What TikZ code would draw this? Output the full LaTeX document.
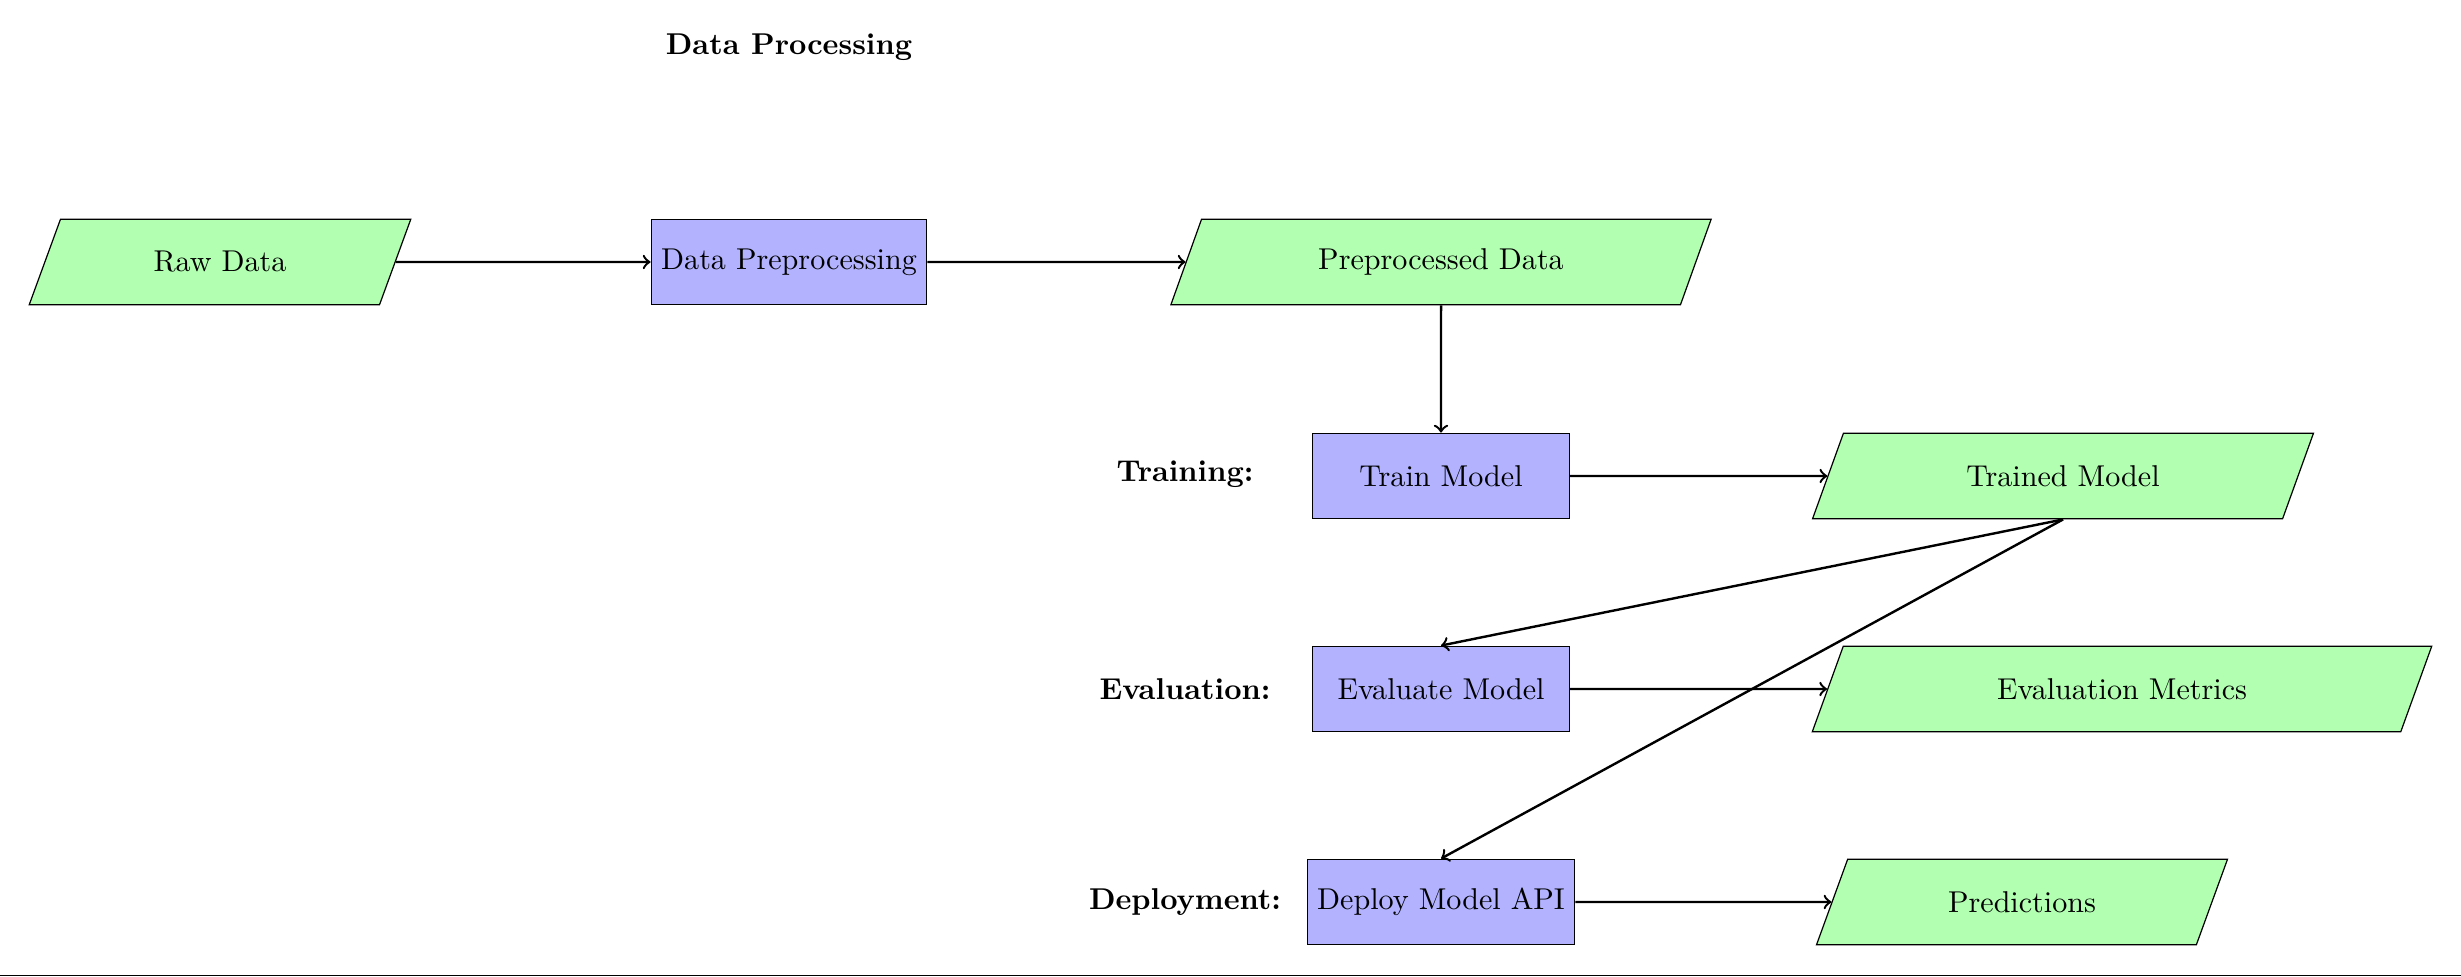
\documentclass[tikz,border=0pt]{standalone}
\usetikzlibrary{shapes.geometric}
\begin{document}
\begin{tikzpicture}[x=0.011669cm,y=-0.011669cm,
  proc/.style={rectangle, draw, fill=blue!30, minimum width=3cm, minimum height=1cm},
  dataio/.style={trapezium, trapezium left angle=70, trapezium right angle=110, trapezium stretches=true, draw, fill=green!30, minimum height=1cm},
  lbl/.style={font=\bfseries},
  arr/.style={->, thick}]
\useasboundingbox (0,0) rectangle (2461,977);
\node[lbl] (title) at (789,47) {Data Processing};
\node[dataio, minimum width=4.47cm] (raw) at (220,262) {Raw Data};
\node[proc] (prep) at (789,262) {Data Preprocessing};
\node[dataio, minimum width=6.34cm] (ppd) at (1441,262) {Preprocessed Data};
\node[proc] (train) at (1441,476) {Train Model};
\node[dataio, minimum width=5.88cm] (trained) at (2063,476) {Trained Model};
\node[proc] (eval) at (1441,689) {Evaluate Model};
\node[dataio, minimum width=7.26cm] (metrics) at (2122,689) {Evaluation Metrics};
\node[proc] (deploy) at (1441,902) {Deploy Model API};
\node[dataio, minimum width=4.80cm] (pred) at (2022,902) {Predictions};
\node[lbl] (ltrain) at (1185,474) {Training:};
\node[lbl] (leval) at (1185,689) {Evaluation:};
\node[lbl] (ldep) at (1185,902) {Deployment:};
\draw[arr] (raw.east) -- (prep.west);
\draw[arr] (prep.east) -- (ppd.west);
\draw[arr] (ppd.south) -- (train.north);
\draw[arr] (train.east) -- (trained.west);
\draw[arr] (trained.south) -- (eval.north);
\draw[arr] (trained.south) -- (deploy.north);
\draw[arr] (eval.east) -- (metrics.west);
\draw[arr] (deploy.east) -- (pred.west);
\coordinate (bl) at (0,975.5);
\coordinate (br) at (2461,975.5);
\draw[line width=0.6pt] (bl) -- (br);
\end{tikzpicture}
\end{document}
